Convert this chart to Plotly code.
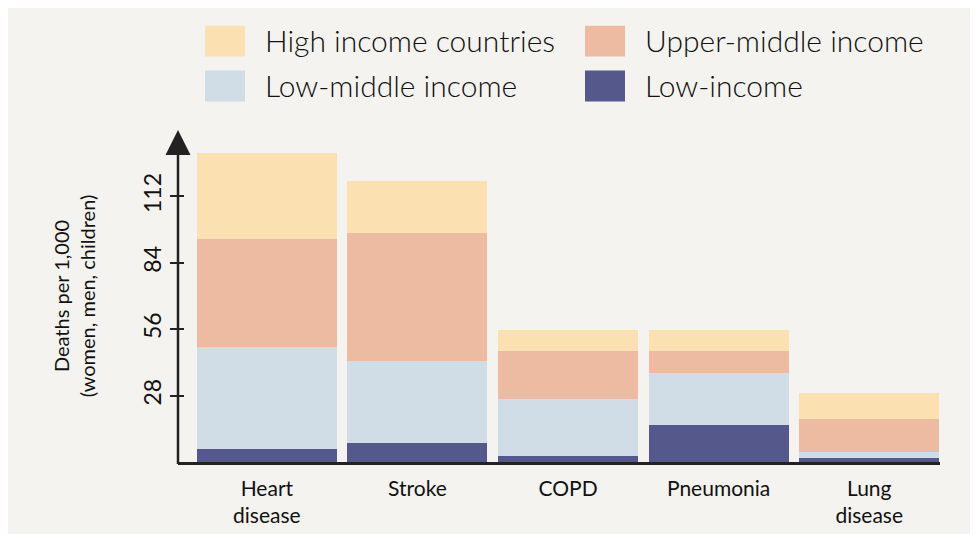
import plotly.graph_objects as go


# ==========================================================
# Data
# ==========================================================

causes = ["Heart<br>disease", "Stroke", "COPD", "Pneumonia", "Lung<br>disease"]

low_income = [5.5, 8, 2.5, 15.5, 1.7]
low_middle_income = [43, 34.5, 24, 22, 2.5]
upper_middle_income = [45.5, 54, 20.2, 9.3, 13.9]
high_income = [36.2, 22, 8.8, 8.8, 11]

y_ticks = [28, 56, 84, 112]

series_names = ["Low-income", "Low-middle income", "Upper-middle income", "High income countries"]
series_values = [low_income, low_middle_income, upper_middle_income, high_income]
series_colors = ["#55588A", "#D0DDE6", "#EDBBA1", "#FBE0B1"]

# legend drawn as big swatches: (column, row) for each series
legend_slots = [(1, 1), (0, 1), (1, 0), (0, 0)]


# ==========================================================
# Layout geometry (pixels, relative to the figure)
# ==========================================================

W, H = 978, 534
PLOT_L, PLOT_R = 170, 932
PLOT_T, PLOT_B = 121.5, 454
BG = "#F4F3EF"
INK = "#222222"
FONT = "Lato, 'Open Sans', sans-serif"


def px_x(p):
    return (p - PLOT_L) / (PLOT_R - PLOT_L)


def px_y(p):
    return (PLOT_B - p) / (PLOT_B - PLOT_T)


# ==========================================================
# Figure
# ==========================================================

fig = go.Figure()

x_pos = list(range(len(causes)))

for name, vals, col in zip(series_names, series_values, series_colors):
    fig.add_trace(
        go.Bar(
            x=x_pos,
            y=vals,
            name=name,
            marker=dict(color=col, line=dict(width=0)),
            showlegend=False
        )
    )

# ticks that cross the axis on the inner side
fig.add_trace(
    go.Scatter(x=[None], y=[None], yaxis="y2", showlegend=False)
)

fig.update_layout(
    width=W,
    height=H,
    barmode="stack",
    bargap=0.07,
    paper_bgcolor=BG,
    plot_bgcolor=BG,
    font=dict(family=FONT, color="#111111"),
    margin=dict(l=PLOT_L, r=W - PLOT_R, t=PLOT_T, b=H - PLOT_B),
    xaxis=dict(
        range=[-0.59, 4.47],
        tickmode="array",
        tickvals=x_pos,
        ticktext=causes,
        ticks="",
        ticklabelstandoff=6,
        tickfont=dict(size=21),
        showgrid=False,
        zeroline=False,
        showline=True,
        linecolor=INK,
        linewidth=2.5
    ),
    yaxis=dict(
        range=[0, 140],
        tickmode="array",
        tickvals=y_ticks,
        ticks="outside",
        ticklen=7,
        tickwidth=1.5,
        tickcolor=INK,
        tickangle=-90,
        tickfont=dict(size=23, color="#111111"),
        showgrid=False,
        zeroline=False,
        showline=False,
        title=dict(
            text="Deaths per 1,000<br>(women, men, children)",
            font=dict(size=20, color="#111111"),
            standoff=36
        )
    ),
    yaxis2=dict(
        overlaying="y",
        range=[0, 140],
        tickmode="array",
        tickvals=y_ticks,
        ticks="inside",
        ticklen=6,
        tickwidth=1.5,
        tickcolor=INK,
        showticklabels=False,
        showgrid=False,
        zeroline=False
    )
)

# vertical axis with arrow head
fig.add_annotation(
    x=-0.59, y=140, xref="x", yref="y",
    ax=-0.59, ay=-1.5, axref="x", ayref="y",
    text="", showarrow=True,
    arrowhead=2, arrowsize=2, arrowwidth=2.5,
    arrowcolor=INK, standoff=0
)

# legend
for name, col, (c, r) in zip(series_names, series_colors, legend_slots):
    x0 = 197 + c * 380
    y0 = 17 + r * 45
    fig.add_shape(
        type="rect", xref="paper", yref="paper",
        x0=px_x(x0), x1=px_x(x0 + 40),
        y0=px_y(y0), y1=px_y(y0 + 31),
        fillcolor=col, line=dict(width=0)
    )
    fig.add_annotation(
        x=px_x(x0 + 58), y=px_y(y0 + 14),
        xref="paper", yref="paper",
        text=name, showarrow=False,
        xanchor="left", yanchor="middle",
        font=dict(size=30, color="#111111", weight=300)
    )

fig.write_html("out.html")
